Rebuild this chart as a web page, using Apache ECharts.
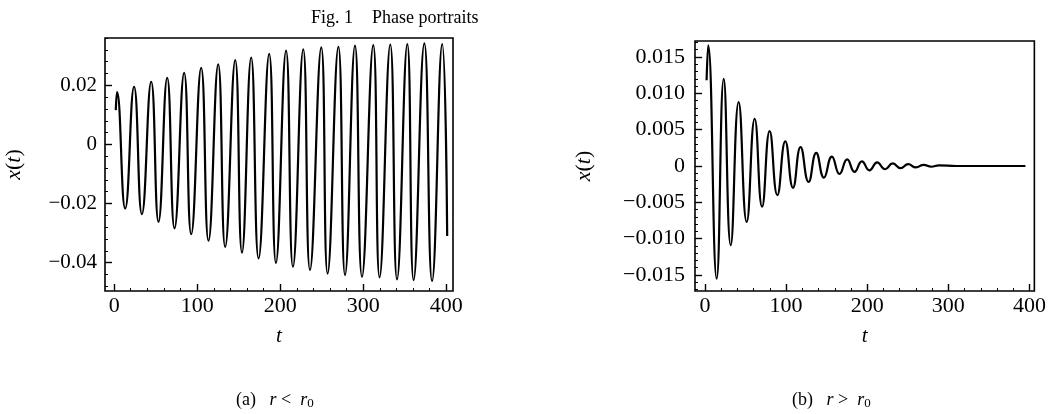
<!DOCTYPE html>
<html><head><meta charset="utf-8">
<script src="https://cdn.jsdelivr.net/npm/echarts@6/dist/echarts.min.js"></script>
<style>html,body{margin:0;padding:0;background:#fff}#c{width:1049px;height:414px}</style>
</head><body><div id="c"></div>
<script>
// Panel (a): r < r0  — time t and x(t) read at the start, peaks and troughs
const tA = [2, 3.5, 13.3, 24, 33.4, 44.6, 53.4, 63.9, 72.7, 84.3, 92.8, 104.8, 113.6, 125.3, 133.7, 145.8, 153.9, 165, 173.9, 186.7, 194.8, 207, 215.3, 227.7, 235.8, 249.4, 257, 270, 278, 290, 298.4, 312, 319.6, 332.5, 340.6, 353, 360.6, 373.5, 382.8, 395, 401];
const xA = [0.0116, 0.0177, -0.0217, 0.0195, -0.0236, 0.0212, -0.0262, 0.0225, -0.0284, 0.0242, -0.0304, 0.0259, -0.0326, 0.0271, -0.0347, 0.0285, -0.0366, 0.0294, -0.0386, 0.0306, -0.0401, 0.0317, -0.0414, 0.0322, -0.0425, 0.0328, -0.0437, 0.033, -0.0442, 0.0334, -0.0448, 0.0336, -0.045, 0.0338, -0.0457, 0.0339, -0.0459, 0.0342, -0.0462, 0.0339, -0.031];
// Panel (b): r > r0
const tB = [2, 4, 14.4, 23.1, 31.7, 41.5, 51.4, 61.3, 70.4, 79.7, 89.2, 99, 108.5, 117.8, 127.7, 137.1, 146.6, 156.4, 165.8, 175.3, 184.3, 193.4, 202.7, 212.2, 222, 231.5, 241, 250.5, 260, 269.5, 279, 288.5, 310, 395];
const xB = [0.0118, 0.0166, -0.0155, 0.0120, -0.0109, 0.0088, -0.0077, 0.0065, -0.0056, 0.0048, -0.0040, 0.0034, -0.0030, 0.0026, -0.0022, 0.0018, -0.0016, 0.0013, -0.0011, 0.0009, -0.0008, 0.00065, -0.0006, 0.0005, -0.00045, 0.00035, -0.0003, 0.00025, -0.0002, 0.00015, -0.0001, 0.00008, 0, 0];

const xTicks = [0, 100, 200, 300, 400];
const yTicksA = [-0.04, -0.02, 0, 0.02];
const yTicksB = [-0.015, -0.01, -0.005, 0, 0.005, 0.01, 0.015];
const titleText = ['Fig. 1', 'Phase portraits'];
const captions = ['(a)', '(b)'];

const xMinor = []; for (let k = 0; k <= 20; k++) xMinor.push(k * 20);
const yMinorA = []; for (let k = -12; k <= 9; k++) yMinorA.push(Math.round(k * 4) / 1000);
const yMinorB = []; for (let k = -17; k <= 17; k++) yMinorB.push(k / 1000);

const SERIF = '"Liberation Serif","Times New Roman",serif';
const black = '#000';

function fmt(dec) {
  return function (v) {
    if (Math.abs(v) < 1e-12) return '0';
    return (v < 0 ? '\u2212' : '') + Math.abs(v).toFixed(dec);
  };
}

function xAxes(grid, min, max) {
  return [{
    gridIndex: grid, type: 'value', min: min, max: max, position: 'bottom',
    axisLine: { show: false, onZero: false }, splitLine: { show: false },
    axisTick: { inside: true, length: 7, customValues: xTicks, lineStyle: { color: black, width: 1.4 } },
    axisLabel: { customValues: xTicks, color: black, fontFamily: SERIF, fontSize: 22, margin: 4 },
    name: 't', nameLocation: 'middle', nameGap: 35,
    nameTextStyle: { fontFamily: SERIF, fontStyle: 'italic', fontSize: 21, color: black }
  }, {
    gridIndex: grid, type: 'value', min: min, max: max, position: 'bottom',
    axisLine: { show: false, onZero: false }, splitLine: { show: false }, axisLabel: { show: false },
    axisTick: { inside: true, length: 3, customValues: xMinor, lineStyle: { color: black, width: 1 } }
  }];
}
function yAxes(grid, min, max, ticks, minor, dec, fs, margin, gap) {
  return [{
    gridIndex: grid, type: 'value', min: min, max: max, position: 'left',
    axisLine: { show: false, onZero: false }, splitLine: { show: false },
    axisTick: { inside: true, length: 7, customValues: ticks, lineStyle: { color: black, width: 1.4 } },
    axisLabel: { customValues: ticks, color: black, fontFamily: SERIF, fontSize: fs, margin: margin, formatter: fmt(dec) },
    name: '{i|x}({i|t})', nameLocation: 'middle', nameGap: gap,
    nameTextStyle: { fontFamily: SERIF, fontSize: 22, color: black,
      rich: { i: { fontFamily: SERIF, fontStyle: 'italic', fontSize: 22, color: black } } }
  }, {
    gridIndex: grid, type: 'value', min: min, max: max, position: 'left',
    axisLine: { show: false, onZero: false }, splitLine: { show: false }, axisLabel: { show: false },
    axisTick: { inside: true, length: 3, customValues: minor, lineStyle: { color: black, width: 1 } }
  }];
}

const chart = echarts.init(document.getElementById('c'), null, { renderer: 'canvas' });
const gridStyle = { show: true, borderColor: black, borderWidth: 1.6, backgroundColor: 'transparent' };
const richCap = {
  i: { fontStyle: 'italic', fontFamily: SERIF, fontSize: 18, color: black },
  s: { fontFamily: SERIF, fontSize: 13, color: black, verticalAlign: 'bottom', padding: [7, 0, 0, 0] }
};
chart.setOption({
  animation: false,
  backgroundColor: '#fff',
  grid: [
    Object.assign({ left: 105, right: 596, top: 38, bottom: 123 }, gridStyle),
    Object.assign({ left: 695, right: 14, top: 41, bottom: 123 }, gridStyle)
  ],
  xAxis: xAxes(0, -11, 408).concat(xAxes(1, -12.3, 406)),
  yAxis: yAxes(0, -0.0496, 0.036, yTicksA, yMinorA, 2, 21, 8, 80)
    .concat(yAxes(1, -0.0172, 0.0172, yTicksB, yMinorB, 3, 22, 10, 100)),
  series: [{
    type: 'line', xAxisIndex: 0, yAxisIndex: 0, smooth: 0.5, showSymbol: false,
    lineStyle: { color: black, width: 2.2 },
    data: tA.map((t, i) => [t, xA[i]])
  }, {
    type: 'line', xAxisIndex: 2, yAxisIndex: 2, smooth: 0.5, showSymbol: false,
    lineStyle: { color: black, width: 2.2 },
    data: tB.map((t, i) => [t, xB[i]])
  }],
  graphic: [
    { type: 'text', left: 311, top: 9, style: { text: titleText[0], font: '18px ' + SERIF, fill: black } },
    { type: 'text', left: 372, top: 9, style: { text: titleText[1], font: '18px ' + SERIF, fill: black } },
    { type: 'text', left: 236, top: 391, style: {
        text: captions[0] + '   {i|r} <  {i|r}{s|0}', font: '18px ' + SERIF, fill: black, rich: richCap } },
    { type: 'text', left: 792, top: 391, style: {
        text: captions[1] + '   {i|r} >  {i|r}{s|0}', font: '18px ' + SERIF, fill: black, rich: richCap } }
  ]
});
</script>
</body></html>
